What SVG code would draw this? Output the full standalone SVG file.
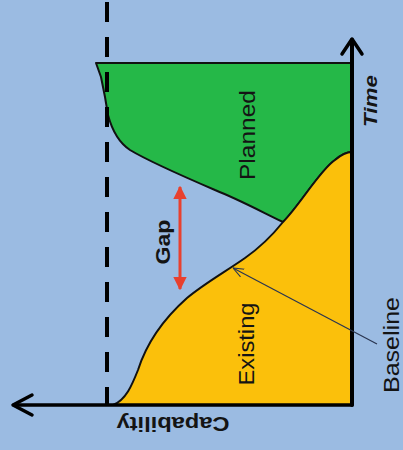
<svg xmlns="http://www.w3.org/2000/svg" width="403" height="450" viewBox="0 0 403 450">
<style>
.lbl{font-family:"Liberation Sans",Arial,sans-serif;fill:#141414;dominant-baseline:central;text-anchor:middle}
.area{stroke:#111;stroke-width:2;stroke-linejoin:round}
.axis{stroke:#000;fill:none;stroke-linecap:round;stroke-linejoin:round}
</style>
<defs>
<marker id="red" viewBox="0 0 10 10" refX="9" refY="5" markerWidth="4.5" markerHeight="4.5" markerUnits="strokeWidth" orient="auto-start-reverse">
<path d="M0,0 L10,5 L0,10 Z" fill="#e8402e"/>
</marker>
<marker id="thin" viewBox="0 0 10 10" refX="10" refY="5" markerWidth="9" markerHeight="9" markerUnits="strokeWidth" orient="auto">
<path d="M0,1 L10,5 L0,9" fill="none" stroke="#2a3550" stroke-width="1"/>
</marker>
</defs>
<rect width="403" height="450" fill="#9bbbe2"/>
<g id="planned">
<path class="area" fill="#25b848" d="M96,63 L352,63 L352,152 C346,152 342,154 335,160 C320,170 300,205 283,222 C262,212 240,200 215,190 C180,175 150,162 130,150 C118,142 112,130 108,115 L105,97 L101,77 L96,63 Z"/>
<text class="lbl" font-size="22" textLength="90" lengthAdjust="spacingAndGlyphs" transform="translate(247,135) rotate(-90)">Planned</text>
</g>
<g id="existing">
<path class="area" fill="#fbc00b" d="M352,152 L352,405 L113,405 C126,400 132,385 138,370 C146,345 160,322 187,298 C205,283 225,272 245,258 C262,246 275,232 283,222 C300,205 320,170 335,160 C342,154 346,152 352,152 Z"/>
<text class="lbl" font-size="22" textLength="83" lengthAdjust="spacingAndGlyphs" transform="translate(246,344) rotate(-90)">Existing</text>
</g>
<g id="connectors">
<line x1="107" y1="2" x2="107" y2="405" stroke="#000" stroke-width="4" stroke-dasharray="20 15"/>
<path class="axis" stroke-width="4" d="M352,405 L352,40"/>
<path class="axis" stroke-width="3.5" d="M342,54 L352,39 L362,54"/>
<path class="axis" stroke-width="3.5" d="M352,405 L14,405"/>
<path class="axis" stroke-width="3.5" d="M32,395 L13,405 L32,415"/>
<line x1="180" y1="187" x2="180" y2="289" stroke="#e8402e" stroke-width="3" marker-start="url(#red)" marker-end="url(#red)"/>
<line x1="377" y1="344" x2="233" y2="268" stroke="#2a3550" stroke-width="1.2" marker-end="url(#thin)"/>
</g>
<g id="gap">
<text class="lbl" font-size="20" font-weight="bold" textLength="45" lengthAdjust="spacingAndGlyphs" transform="translate(163,242) rotate(-90)">Gap</text>
</g>
<g id="time">
<text class="lbl" font-size="19" font-weight="bold" font-style="italic" textLength="52" lengthAdjust="spacingAndGlyphs" transform="translate(370,101) rotate(-90)">Time</text>
</g>
<g id="baseline">
<text class="lbl" font-size="22" textLength="96" lengthAdjust="spacingAndGlyphs" transform="translate(391,345) rotate(-90)">Baseline</text>
</g>
<g id="capability">
<text class="lbl" font-size="20" font-weight="bold" textLength="113" lengthAdjust="spacingAndGlyphs" transform="translate(173,424) rotate(180)">Capability</text>
</g>
</svg>
